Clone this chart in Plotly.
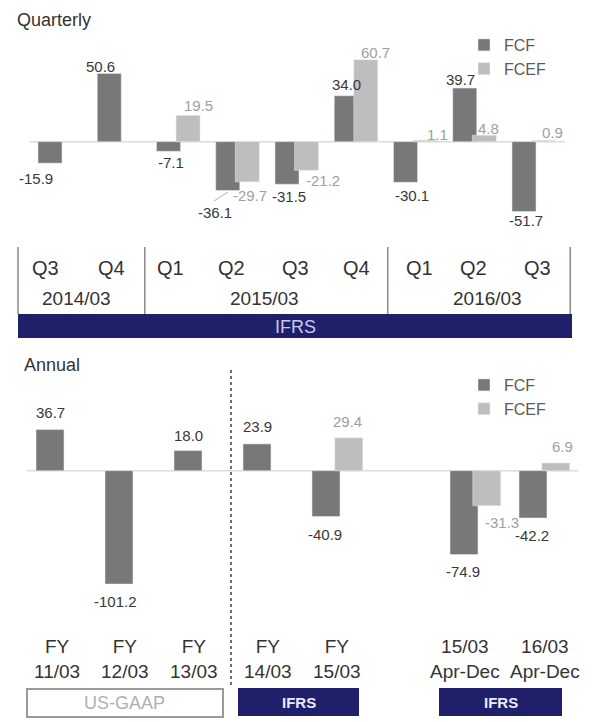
import plotly.graph_objects as go

# ---- data -------------------------------------------------------------
quarters = ["Q3", "Q4", "Q1", "Q2", "Q3", "Q4", "Q1", "Q2", "Q3"]
fiscal_years = ["2014/03", "2015/03", "2016/03"]
fcf_quarterly = [-15.9, 50.6, -7.1, -36.1, -31.5, 34.0, -30.1, 39.7, -51.7]
fcef_quarterly = [None, None, 19.5, -29.7, -21.2, 60.7, 1.1, 4.8, 0.9]

annual_periods = ["FY<br>11/03", "FY<br>12/03", "FY<br>13/03", "FY<br>14/03",
                  "FY<br>15/03", "", "15/03<br>Apr-Dec", "16/03<br>Apr-Dec"]
fcf_annual = [36.7, -101.2, 18.0, 23.9, -40.9, None, -74.9, -42.2]
fcef_annual = [None, None, None, None, 29.4, None, -31.3, 6.9]

# ---- styling / layout constants ---------------------------------------
W, H = 592, 722
FCF_COLOR = "#787878"
FCEF_COLOR = "#bebebe"
NAVY = "#20206a"
FONT = "Liberation Sans, Arial, sans-serif"
BAR_W = 0.405
PAIR_OFFSET = 0.33

# label nudges (pixels) relative to the end of each bar
fcf_q_shift = [(-14, 15), (-9, -7), (2, 11), (-13, 22), (2, 12), (0, -11), (6, 13), (-4, -9), (2, 9)]
fcef_q_shift = [None, None, (10, -10), (3, 14), (16, 10), (10, -7), (12, -6), (4, -7), (9, -8)]
fcf_a_shift = [(0, -17), (-4, 17), (0, -15), (0, -17), (-1, 18), None, (-1, 17), (-1, 18)]
fcef_a_shift = [None, None, None, None, (-1, -16), None, (15, 17), (7, -16)]

# category label positions (offset from bar slot)
q_label_off = [-0.08, 0.03, 0.03, 0.06, 0.15, 0.17, 0.23, 0.14, 0.22]
year_label_x = [0.45, 3.62, 7.38]
a_label_off = [0.10, 0.09, 0.09, 0.16, 0.16, 0, 0.01, 0.17]


def px(x):
    return x / W


def py(y):
    return 1 - y / H


fig = go.Figure()

# ---- quarterly bars ---------------------------------------------------
xq = list(range(len(quarters)))
fig.add_trace(go.Bar(x=xq, y=fcf_quarterly, width=BAR_W, name="FCF",
                     marker_color=FCF_COLOR, xaxis="x", yaxis="y",
                     legend="legend"))
fig.add_trace(go.Bar(x=[i + PAIR_OFFSET for i in xq], y=fcef_quarterly,
                     width=BAR_W, name="FCEF", marker_color=FCEF_COLOR,
                     xaxis="x", yaxis="y", legend="legend"))

# ---- annual bars ------------------------------------------------------
xa = list(range(len(annual_periods)))
fig.add_trace(go.Bar(x=xa, y=fcf_annual, width=BAR_W, name="FCF",
                     marker_color=FCF_COLOR, xaxis="x2", yaxis="y2",
                     legend="legend2"))
fig.add_trace(go.Bar(x=[i + PAIR_OFFSET for i in xa], y=fcef_annual,
                     width=BAR_W, name="FCEF", marker_color=FCEF_COLOR,
                     xaxis="x2", yaxis="y2", legend="legend2"))

annotations = []
shapes = []


def value_labels(xs, values, shifts, xref, yref, color):
    for x, v, s in zip(xs, values, shifts):
        if v is None or s is None:
            continue
        annotations.append(dict(
            x=x, y=v, xref=xref, yref=yref, text=f"{v:.1f}", showarrow=False,
            xshift=s[0], yshift=-s[1], xanchor="center", yanchor="middle",
            font=dict(family=FONT, size=15, color=color)))


value_labels(xq, fcf_quarterly, fcf_q_shift, "x", "y", "#383838")
value_labels([i + PAIR_OFFSET for i in xq], fcef_quarterly, fcef_q_shift, "x", "y", "#a0a0a0")
value_labels(xa, fcf_annual, fcf_a_shift, "x2", "y2", "#383838")
value_labels([i + PAIR_OFFSET for i in xa], fcef_annual, fcef_a_shift, "x2", "y2", "#a0a0a0")

# leader line from the displaced -36.1 label to its bar
shapes.append(dict(type="line", xref="paper", yref="paper",
                   x0=px(214), y0=py(201), x1=px(228), y1=py(192),
                   line=dict(color="#b0b0b0", width=1)))

# zero lines
shapes.append(dict(type="line", xref="x", yref="y", x0=-0.34, x1=8.69, y0=0, y1=0,
                   line=dict(color="#dcdcdc", width=1.5), layer="below"))
shapes.append(dict(type="line", xref="x2", yref="y2", x0=-0.33, x1=7.65, y0=0, y1=0,
                   line=dict(color="#dcdcdc", width=1.5), layer="below"))

# titles
annotations.append(dict(x=px(15), y=py(20), xref="paper", yref="paper", text="Quarterly",
                        showarrow=False, xanchor="left", yanchor="middle",
                        font=dict(family=FONT, size=18, color="#333333")))
annotations.append(dict(x=px(22), y=py(365), xref="paper", yref="paper", text="Annual",
                        showarrow=False, xanchor="left", yanchor="middle",
                        font=dict(family=FONT, size=18, color="#333333")))

# ---- quarterly period box ---------------------------------------------
for xs in [-0.54, 1.60, 5.70, 8.78]:
    shapes.append(dict(type="line", xref="x", yref="paper", x0=xs, x1=xs,
                       y0=py(247), y1=py(314), line=dict(color="#8a8a8a", width=1.5)))
for i, q in enumerate(quarters):
    annotations.append(dict(x=i + q_label_off[i], y=py(268), xref="x", yref="paper",
                            text=q, showarrow=False, xanchor="center", yanchor="middle",
                            font=dict(family=FONT, size=20, color="#333333")))
for x, fy in zip(year_label_x, fiscal_years):
    annotations.append(dict(x=x, y=py(299), xref="x", yref="paper", text=fy,
                            showarrow=False, xanchor="center", yanchor="middle",
                            font=dict(family=FONT, size=19, color="#333333")))
shapes.append(dict(type="rect", xref="paper", yref="paper", x0=px(18), x1=px(572),
                   y0=py(338), y1=py(314), fillcolor=NAVY, line=dict(width=0)))
annotations.append(dict(x=px(295), y=py(327), xref="paper", yref="paper", text="IFRS",
                        showarrow=False, xanchor="center", yanchor="middle",
                        font=dict(family=FONT, size=18, color="#c8c8f0")))

# ---- annual period labels ---------------------------------------------
for i, lab in enumerate(annual_periods):
    if not lab:
        continue
    annotations.append(dict(x=i + a_label_off[i], y=py(659), xref="x2", yref="paper",
                            text=lab, showarrow=False, xanchor="center", yanchor="middle",
                            font=dict(family=FONT, size=19, color="#333333")))

# separator between accounting standards
shapes.append(dict(type="line", xref="paper", yref="paper", x0=px(231), x1=px(231),
                   y0=py(370), y1=py(688), line=dict(color="#6e6e6e", width=2, dash="dot")))

# accounting standard badges
shapes.append(dict(type="rect", xref="paper", yref="paper", x0=px(27), x1=px(223),
                   y0=py(717), y1=py(689), fillcolor="white",
                   line=dict(color="#9a9a9a", width=2)))
annotations.append(dict(x=px(124), y=py(703), xref="paper", yref="paper", text="US-GAAP",
                        showarrow=False, xanchor="center", yanchor="middle",
                        font=dict(family=FONT, size=18, color="#b0b0b0")))
for x0, x1 in [(238, 359), (439, 562)]:
    shapes.append(dict(type="rect", xref="paper", yref="paper", x0=px(x0), x1=px(x1),
                       y0=py(716), y1=py(688), fillcolor=NAVY, line=dict(width=0)))
    annotations.append(dict(x=px((x0 + x1) / 2), y=py(702), xref="paper", yref="paper",
                            text="<b>IFRS</b>", showarrow=False, xanchor="center",
                            yanchor="middle",
                            font=dict(family=FONT, size=15, color="#eaeaff")))

axis_off = dict(visible=False, showgrid=False, zeroline=False, fixedrange=True)
legend_style = dict(font=dict(family=FONT, size=16, color="#5a5a5a"),
                    bgcolor="rgba(0,0,0,0)", xanchor="left", yanchor="top",
                    itemclick=False, itemdoubleclick=False, tracegroupgap=0)

fig.update_layout(
    width=W, height=H,
    margin=dict(l=0, r=0, t=0, b=0),
    paper_bgcolor="white", plot_bgcolor="white",
    barmode="overlay",
    showlegend=True,
    xaxis=dict(domain=[0, 1], range=[-50 / 59.25, 542 / 59.25], anchor="y", **axis_off),
    yaxis=dict(domain=[py(240), 1], range=[(141.7 - 240) / 1.35, 141.7 / 1.35],
               anchor="x", **axis_off),
    xaxis2=dict(domain=[0, 1], range=[-50 / 69, 542 / 69], anchor="y2", **axis_off),
    yaxis2=dict(domain=[py(620), py(350)], range=[(470.7 - 620) / 1.12, (470.7 - 350) / 1.12],
                anchor="x2", **axis_off),
    legend=dict(x=px(464), y=py(28), **legend_style),
    legend2=dict(x=px(464), y=py(368), **legend_style),
    annotations=annotations,
    shapes=shapes,
)

fig.write_html("out.html")
